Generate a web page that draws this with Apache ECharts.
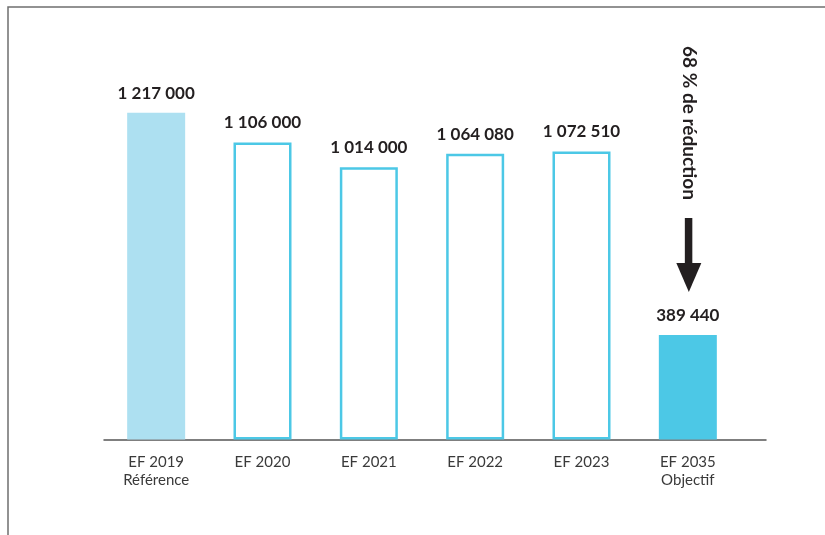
<!DOCTYPE html>
<html>
<head>
<meta charset="utf-8">
<script src="https://cdn.jsdelivr.net/npm/echarts@6/dist/echarts.min.js"></script>
<style>
  html, body { margin: 0; padding: 0; background: #fff; }
  #chart { width: 825px; height: 535px; }
</style>
</head>
<body>
<div id="chart"></div>
<script>
// Emissions figures by fiscal year, with the 2035 objective
const categories = ['EF 2019\nRéférence', 'EF 2020', 'EF 2021', 'EF 2022', 'EF 2023', 'EF 2035\nObjectif'];
const values = [1217000, 1106000, 1014000, 1064080, 1072510, 389440];
const barKinds = ['reference', 'outline', 'outline', 'outline', 'outline', 'target'];
const reductionText = '68 % de réduction';

const FONT = 'Lato, "Noto Sans", sans-serif';
const LIGHT_BLUE = '#ade0f1';
const CYAN = '#4cc8e6';
const INK = '#231f20';

function fmt(v) {
  return String(v).replace(/\B(?=(\d{3})+(?!\d))/g, ' ');
}

const styles = {
  reference: { color: LIGHT_BLUE },
  outline: { color: '#ffffff', borderColor: CYAN, borderWidth: 2.5 },
  target: { color: CYAN }
};

const barData = values.map((v, i) => ({
  value: v,
  itemStyle: styles[barKinds[i]]
}));

const chart = echarts.init(document.getElementById('chart'), null, { renderer: 'canvas' });

chart.setOption({
  animation: false,
  backgroundColor: '#ffffff',
  grid: [
    { left: 103, right: 84, top: 42, bottom: 95.5 },
    { left: 104, right: 59, top: 42, bottom: 95.5 }
  ],
  xAxis: [
    {
      type: 'category',
      gridIndex: 0,
      data: categories,
      axisLine: { show: false },
      axisTick: { show: false },
      axisLabel: {
        color: '#3a3a3a',
        fontFamily: FONT,
        fontSize: 15,
        lineHeight: 18,
        margin: 14
      }
    },
    {
      type: 'value',
      gridIndex: 1,
      min: 0,
      max: 1,
      axisLine: { show: true, lineStyle: { color: '#555555', width: 1.5 } },
      axisTick: { show: false },
      axisLabel: { show: false },
      splitLine: { show: false }
    }
  ],
  yAxis: [
    { type: 'value', gridIndex: 0, min: 0, max: 1480000, show: false },
    { type: 'value', gridIndex: 1, min: 0, max: 1, show: false }
  ],
  series: [
    {
      type: 'bar',
      xAxisIndex: 0,
      yAxisIndex: 0,
      barWidth: 58,
      data: barData,
      label: {
        show: true,
        position: 'top',
        distance: 11,
        color: INK,
        fontFamily: FONT,
        fontWeight: 'bold',
        fontSize: 17,
        formatter: p => fmt(p.value)
      }
    }
  ]
});

// Page frame and reduction arrow above the objective bar
const cx = chart.convertToPixel({ xAxisIndex: 0 }, categories[5]);
chart.setOption({
  graphic: [
    {
      type: 'polyline',
      shape: { points: [[8, 540], [8, 7], [830, 7]] },
      style: { stroke: '#6f6f6f', lineWidth: 1.5, fill: null }
    },
    {
      type: 'text',
      x: cx + 1,
      y: 123,
      rotation: -Math.PI / 2,
      style: {
        text: reductionText,
        fill: INK,
        font: 'bold 19px ' + FONT,
        textAlign: 'center',
        textVerticalAlign: 'middle'
      }
    },
    {
      type: 'rect',
      shape: { x: cx - 3, y: 218, width: 7.5, height: 47 },
      style: { fill: INK }
    },
    {
      type: 'polygon',
      shape: { points: [[cx - 11.5, 263], [cx + 13.5, 263], [cx + 1, 292]] },
      style: { fill: INK }
    }
  ]
});
</script>
</body>
</html>
